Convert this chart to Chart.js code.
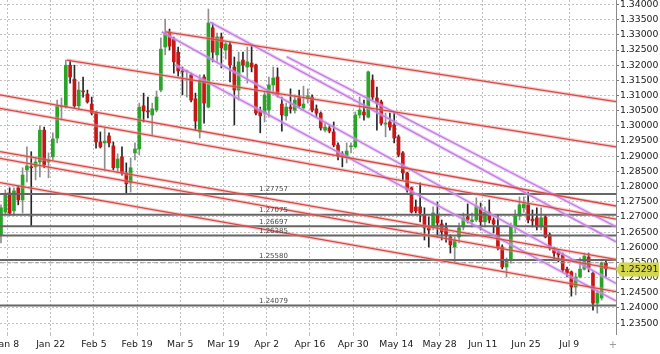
<!DOCTYPE html>
<html>
<head>
<meta charset="utf-8">
<script src="https://cdn.jsdelivr.net/npm/chart.js@4.4.1/dist/chart.umd.min.js"></script>
<style>
  html, body { margin: 0; padding: 0; background: #fff; }
  #wrap { width: 660px; height: 354px; }
</style>
</head>
<body>
<div id="wrap"><canvas id="chart" width="660" height="354"></canvas></div>
<script>
// daily bars, index 0 = first bar at the left edge
const opens = [1.2641,1.2716,1.2779,1.2720,1.2796,1.2756,1.2855,1.2865,1.2865,1.2881,
  1.2986,1.2881,1.2898,1.2960,1.3062,1.3062,1.3200,1.3154,1.3066,1.3115,
  1.3105,1.3072,1.3042,1.2947,1.2944,1.2967,1.2934,1.2862,1.2898,1.2845,
  1.2812,1.2911,1.2924,1.3066,1.3049,1.3036,1.3052,1.3118,1.3260,1.3309,
  1.3286,1.3243,1.3181,1.3178,1.3168,1.3089,1.2980,1.3161,1.3062,1.3323,
  1.3234,1.3293,1.3250,1.3267,1.3194,1.3118,1.3217,1.3194,1.3207,1.3201,
  1.3052,1.3042,1.3052,1.3135,1.3161,1.3072,1.3033,1.3062,1.3052,1.3092,
  1.3059,1.3089,1.3095,1.3056,1.3042,1.2986,1.2993,1.2980,1.2937,1.2908,
  1.2898,1.2931,1.2931,1.3036,1.3046,1.3029,1.3151,1.3092,1.3079,1.3006,
  1.3013,1.3003,1.2964,1.2911,1.2845,1.2796,1.2733,1.2733,1.2706,1.2664,
  1.2667,1.2706,1.2677,1.2664,1.2634,1.2601,1.2634,1.2667,1.2700,1.2684,
  1.2690,1.2730,1.2684,1.2716,1.2690,1.2667,1.2601,1.2535,1.2558,1.2667,
  1.2703,1.2730,1.2740,1.2693,1.2697,1.2667,1.2700,1.2641,1.2598,1.2585,
  1.2575,1.2528,1.2519,1.2469,1.2502,1.2528,1.2568,1.2515,1.2416,1.2433,
  1.2548];
const highs = [1.2740,1.2789,1.2796,1.2796,1.2802,1.2862,1.2931,1.2915,1.2898,1.3000,
  1.2996,1.2911,1.2977,1.3085,1.3092,1.3217,1.3217,1.3200,1.3145,1.3161,
  1.3118,1.3095,1.3046,1.2980,1.2993,1.2977,1.2947,1.2908,1.2931,1.2878,
  1.2894,1.2944,1.3075,1.3108,1.3095,1.3075,1.3115,1.3290,1.3352,1.3319,
  1.3293,1.3260,1.3194,1.3184,1.3174,1.3108,1.3168,1.3168,1.3385,1.3339,
  1.3306,1.3306,1.3276,1.3276,1.3227,1.3243,1.3243,1.3260,1.3263,1.3204,
  1.3062,1.3112,1.3161,1.3194,1.3191,1.3095,1.3075,1.3122,1.3102,1.3118,
  1.3131,1.3122,1.3102,1.3069,1.3046,1.3009,1.3000,1.3013,1.2944,1.2915,
  1.2944,1.2944,1.3046,1.3095,1.3085,1.3181,1.3168,1.3128,1.3085,1.3042,
  1.3042,1.3042,1.2970,1.2915,1.2848,1.2799,1.2756,1.2812,1.2730,1.2700,
  1.2733,1.2749,1.2690,1.2680,1.2641,1.2634,1.2680,1.2713,1.2743,1.2713,
  1.2763,1.2746,1.2733,1.2756,1.2697,1.2706,1.2608,1.2565,1.2680,1.2723,
  1.2766,1.2766,1.2782,1.2723,1.2730,1.2730,1.2706,1.2647,1.2601,1.2591,
  1.2581,1.2535,1.2522,1.2515,1.2565,1.2581,1.2581,1.2519,1.2459,1.2552,
  1.2558];
const lows = [1.2614,1.2710,1.2706,1.2706,1.2740,1.2713,1.2815,1.2670,1.2822,1.2832,
  1.2862,1.2829,1.2888,1.2944,1.3019,1.3059,1.3141,1.3059,1.3052,1.3095,
  1.3075,1.3036,1.2927,1.2927,1.2855,1.2931,1.2855,1.2845,1.2838,1.2776,
  1.2782,1.2888,1.2904,1.3013,1.3026,1.2967,1.3046,1.3112,1.3234,1.3250,
  1.3174,1.3164,1.3102,1.3095,1.3079,1.2986,1.2960,1.3009,1.3059,1.3211,
  1.3211,1.3191,1.3220,1.3145,1.3003,1.3085,1.3178,1.3141,1.3178,1.3036,
  1.2977,1.3013,1.3029,1.3112,1.3095,1.2983,1.3019,1.3042,1.3042,1.3062,
  1.3052,1.3075,1.3046,1.3029,1.2986,1.2980,1.2977,1.2931,1.2888,1.2865,
  1.2878,1.2911,1.2927,1.3026,1.3019,1.3026,1.3085,1.2986,1.3003,1.2964,
  1.2986,1.2944,1.2898,1.2822,1.2782,1.2713,1.2713,1.2684,1.2624,1.2601,
  1.2657,1.2634,1.2624,1.2617,1.2581,1.2552,1.2614,1.2657,1.2680,1.2667,
  1.2684,1.2657,1.2667,1.2680,1.2647,1.2591,1.2529,1.2502,1.2548,1.2647,
  1.2690,1.2716,1.2680,1.2667,1.2657,1.2657,1.2631,1.2591,1.2558,1.2552,
  1.2519,1.2502,1.2439,1.2443,1.2499,1.2525,1.2519,1.2393,1.2383,1.2426,
  1.2502];
const closes = [1.2730,1.2776,1.2713,1.2786,1.2756,1.2838,1.2868,1.2862,1.2881,1.2986,
  1.2871,1.2888,1.2957,1.3066,1.3066,1.3200,1.3161,1.3066,1.3118,1.3112,
  1.3079,1.3042,1.2947,1.2931,1.2950,1.2944,1.2862,1.2891,1.2845,1.2809,
  1.2862,1.2924,1.3062,1.3049,1.3046,1.3056,1.3095,1.3253,1.3306,1.3263,
  1.3211,1.3181,1.3178,1.3181,1.3085,1.3016,1.3151,1.3075,1.3339,1.3243,
  1.3293,1.3257,1.3270,1.3201,1.3118,1.3211,1.3201,1.3211,1.3194,1.3042,
  1.3033,1.3102,1.3135,1.3158,1.3102,1.3036,1.3062,1.3056,1.3085,1.3066,
  1.3072,1.3099,1.3052,1.3042,1.2993,1.2996,1.2983,1.2937,1.2904,1.2898,
  1.2917,1.2934,1.3036,1.3052,1.3036,1.3178,1.3095,1.3075,1.3009,1.3009,
  1.2996,1.2960,1.2904,1.2845,1.2789,1.2716,1.2720,1.2713,1.2664,1.2657,
  1.2713,1.2680,1.2651,1.2641,1.2608,1.2624,1.2664,1.2697,1.2690,1.2690,
  1.2736,1.2684,1.2716,1.2690,1.2677,1.2598,1.2535,1.2558,1.2670,1.2703,
  1.2740,1.2743,1.2690,1.2687,1.2667,1.2697,1.2634,1.2598,1.2581,1.2575,
  1.2525,1.2515,1.2469,1.2502,1.2528,1.2571,1.2532,1.2416,1.2449,1.2548,
  1.25291];

// date grid lines sit between bars, every 10 bars
const dateTicks = [1.5, 11.5, 21.5, 31.5, 41.5, 51.5, 61.5, 71.5, 81.5, 91.5, 101.5, 111.5, 121.5, 131.5];
const dateLabels = ["Jan 8", "Jan 22", "Feb 5", "Feb 19", "Mar 5", "Mar 19", "Apr 2", "Apr 16",
  "Apr 30", "May 14", "May 28", "Jun 11", "Jun 25", "Jul 9"];
const priceTicks = [1.235, 1.24, 1.245, 1.25, 1.255, 1.26, 1.265, 1.27, 1.275, 1.28, 1.285,
  1.29, 1.295, 1.30, 1.305, 1.31, 1.315, 1.32, 1.325, 1.33, 1.335, 1.34];

// horizontal levels and the dashed ask line
const levels = [1.27757, 1.27075, 1.26697, 1.26385, 1.25580, 1.24079];
const askLevel = 1.2549;

// trend lines: [startBar, startPrice, endBar, endPrice]
const redLines = [
  [15.2, 1.3217, 142.33, 1.2931],
  [38.1, 1.3310, 142.33, 1.3080],
  [-0.23, 1.3102, 142.33, 1.2736],
  [-0.23, 1.3058, 142.33, 1.2693],
  [-0.23, 1.2915, 142.33, 1.2560],
  [-0.23, 1.2893, 142.33, 1.2528],
  [-0.23, 1.2813, 142.33, 1.2454]
];
const violetLines = [
  [37.2, 1.3310, 142.33, 1.2481],
  [48.4, 1.3342, 142.33, 1.2618],
  [40.3, 1.3201, 142.33, 1.2423],
  [66.1, 1.3228, 142.33, 1.2668]
];

const X_MIN = -0.23, X_MAX = 142.33;
const Y_MIN = 1.23143, Y_MAX = 1.34148;
const FONT = "DejaVu Sans";

let wicks = [], bodies = [], wickColors = [], bodyColors = [];
closes.forEach((c, i) => {
  let up = c >= opens[i];
  wicks.push({x: i, y: [lows[i], highs[i]]});
  bodies.push({x: i, y: [opens[i], c]});
  wickColors.push(up ? "#8e8e8e" : "#262626");
  bodyColors.push(up ? "#28a428" : "#c81515");
});

function seg(s, color, width, order, dash) {
  return {
    type: "line",
    data: [{x: s[0], y: s[1]}, {x: s[2], y: s[3]}],
    borderColor: color,
    borderWidth: width,
    borderDash: dash || [],
    pointRadius: 0,
    fill: false,
    order: order
  };
}

let datasets = [];
redLines.forEach(s => {
  datasets.push(seg(s, "rgba(238,150,150,0.45)", 3.5, 3));
  datasets.push(seg(s, "#d44a47", 1.3, 2));
});
violetLines.forEach(s => {
  datasets.push(seg(s, "rgba(220,170,242,0.5)", 3.5, 3));
  datasets.push(seg(s, "#c47fe0", 1.3, 2));
});
levels.forEach(v => datasets.push(seg([X_MIN, v, X_MAX, v], "#666666", 2, 5)));
datasets.push(seg([X_MIN, askLevel, X_MAX, askLevel], "#9a9a9a", 1, 5, [4, 3]));

datasets.push({
  type: "bar", data: bodies, backgroundColor: bodyColors,
  barThickness: 3, grouped: false, minBarLength: 1, order: 8
});
datasets.push({
  type: "bar", data: wicks, backgroundColor: wickColors,
  barThickness: 1, grouped: false, minBarLength: 1, order: 9
});

const overlay = {
  id: "overlay",
  afterDatasetsDraw(chart) {
    const {ctx, scales: {x, y}} = chart;
    ctx.save();
    ctx.font = "7px " + FONT;
    ctx.fillStyle = "#4a4a4a";
    ctx.textAlign = "left";
    ctx.textBaseline = "alphabetic";
    levels.forEach(v => {
      ctx.fillText(v.toFixed(5), x.getPixelForValue(59.7), y.getPixelForValue(v) - 2.5);
    });
    ctx.restore();
  },
  afterDraw(chart) {
    const {ctx, chartArea, scales: {y}} = chart;
    const last = closes[closes.length - 1];
    const yc = Math.round(y.getPixelForValue(last)) + 0.5;
    const r = chartArea.right;
    ctx.save();
    ctx.fillStyle = "#d4d64b";
    ctx.beginPath();
    ctx.moveTo(r, yc);
    ctx.lineTo(r + 4, yc - 7);
    ctx.lineTo(r + 43, yc - 7);
    ctx.lineTo(r + 43, yc + 7);
    ctx.lineTo(r + 4, yc + 7);
    ctx.closePath();
    ctx.fill();
    ctx.fillStyle = "#1a1a1a";
    ctx.font = "9.3px " + FONT;
    ctx.textBaseline = "middle";
    ctx.fillText(last.toFixed(5), r + 4, yc);
    ctx.fillStyle = "#9a9a9a";
    ctx.font = "10px " + FONT;
    ctx.textAlign = "center";
    ctx.fillText("+", r - 3, 345);
    ctx.restore();
  }
};

new Chart(document.getElementById("chart"), {
  type: "bar",
  data: { datasets: datasets },
  plugins: [overlay],
  options: {
    responsive: false,
    animation: false,
    events: [],
    layout: { padding: 0, autoPadding: false },
    plugins: { legend: { display: false }, tooltip: { enabled: false } },
    scales: {
      x: {
        type: "linear", min: X_MIN, max: X_MAX, offset: false,
        afterBuildTicks: s => { s.ticks = dateTicks.map(v => ({value: v})); },
        afterFit: s => { s.height = 20; s.paddingLeft = 0; s.paddingRight = 0; },
        ticks: {
          autoSkip: false, maxRotation: 0, minRotation: 0, padding: 1,
          color: "#1a1a1a", font: { family: FONT, size: 9.3 },
          callback: (v, i) => dateLabels[i]
        },
        grid: { offset: false, color: "#c0c0c0", tickLength: 4, tickColor: "#c0c0c0", tickBorderDash: [2, 2] },
        border: { display: false, dash: [2, 2] }
      },
      y: {
        type: "linear", position: "right", min: Y_MIN, max: Y_MAX,
        afterBuildTicks: s => { s.ticks = priceTicks.map(v => ({value: v})); },
        afterFit: s => { s.width = 44; s.paddingTop = 0; s.paddingBottom = 0; },
        ticks: {
          padding: 1, color: "#1a1a1a", font: { family: FONT, size: 9.3 },
          callback: v => v.toFixed(5)
        },
        grid: { color: "#c0c0c0", tickLength: 3, tickColor: "#777" },
        border: { display: true, color: "#8a8a8a", width: 1, dash: [2, 2] }
      }
    }
  }
});
</script>
</body>
</html>
